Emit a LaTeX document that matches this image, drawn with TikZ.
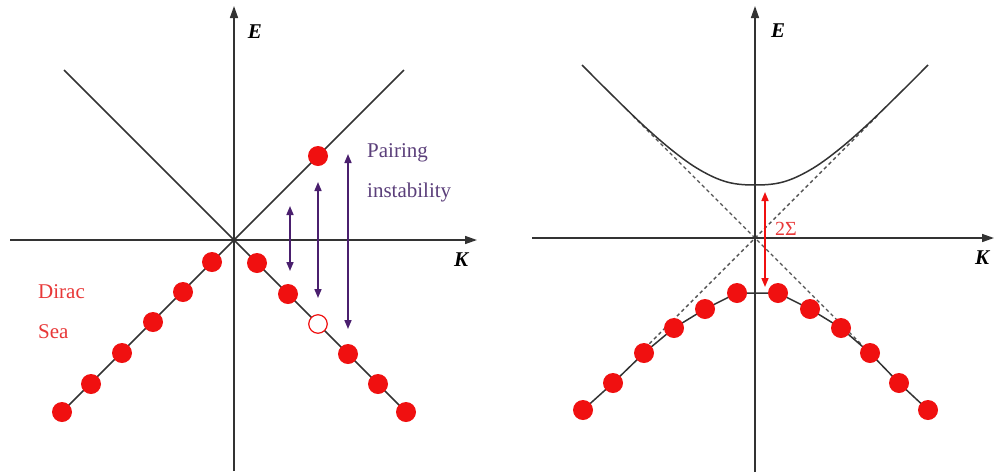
\documentclass[tikz,border=0pt]{standalone}
\usepackage{fontspec}
\setmainfont{Liberation Serif}
\usetikzlibrary{arrows.meta}
\definecolor{dotred}{HTML}{F01010}
\definecolor{seared}{HTML}{E83838}
\definecolor{pairtxt}{HTML}{5B3F7A}
\definecolor{pairarr}{HTML}{4A1F6E}
\definecolor{linegrey}{HTML}{333333}
\tikzset{
  axis/.style={line width=1.5pt, draw=linegrey, -{Triangle[length=12pt,width=8pt]}},
  band/.style={line width=1.5pt, draw=linegrey},
  asym/.style={line width=1.4pt, draw=linegrey!85, dash pattern=on 3.5pt off 3pt},
  dot/.style={circle, fill=dotred, inner sep=0pt, minimum size=20pt},
  hole/.style={circle, fill=white, draw=dotred, line width=1.2pt, inner sep=0pt, minimum size=18.5pt},
  pairarrow/.style={line width=1.6pt, draw=pairarr, {Triangle[length=9pt,width=7pt]}-{Triangle[length=9pt,width=7pt]}},
  gaparrow/.style={line width=1.6pt, draw=dotred, {Triangle[length=9pt,width=7pt]}-{Triangle[length=9pt,width=7pt]}},
  axlabel/.style={font=\fontsize{21}{25}\selectfont\bfseries\itshape, inner sep=0pt},
  txt/.style={font=\fontsize{21}{25}\selectfont, inner sep=0pt, anchor=base west}
}
\begin{document}
\begin{tikzpicture}[x=1pt,y=-1pt]
\useasboundingbox (0,0) rectangle (994,475);
% ---------------- left panel ----------------
\coordinate (O1) at (234,240);
\coordinate (L1b) at (234,471);
\coordinate (L1t) at (234,6);
\coordinate (L1l) at (10,240);
\coordinate (L1r) at (477,240);
\coordinate (UL) at (64,70);
\coordinate (UR) at (404,70);
\coordinate (DL) at (56,418);
\coordinate (DR) at (412,418);
\draw[axis] (L1b) -- (L1t);
\draw[axis] (L1l) -- (L1r);
\draw[band] (UL) -- (O1) -- (DR);
\draw[band] (UR) -- (O1) -- (DL);
\node[axlabel] (E1) at (255,32) {E};
\node[axlabel] (K1) at (461,260) {K};
% Dirac sea dots
\node[dot] (a1) at (212,262) {};
\node[dot] (a2) at (183,292) {};
\node[dot] (a3) at (153,322) {};
\node[dot] (a4) at (122,353) {};
\node[dot] (a5) at (91,384) {};
\node[dot] (a6) at (62,412) {};
\node[dot] (b1) at (257,263) {};
\node[dot] (b2) at (288,294) {};
\node[hole] (b3) at (318,324) {};
\node[dot] (b4) at (348,354) {};
\node[dot] (b5) at (378,384) {};
\node[dot] (b6) at (406,412) {};
\node[dot] (u1) at (318,156) {};
% pairing arrows
\coordinate (p1t) at (290,206);
\coordinate (p1b) at (290,271);
\coordinate (p2t) at (318,182);
\coordinate (p2b) at (318,298);
\coordinate (p3t) at (348,154);
\coordinate (p3b) at (348,329);
\draw[pairarrow] (p1t) -- (p1b);
\draw[pairarrow] (p2t) -- (p2b);
\draw[pairarrow] (p3t) -- (p3b);
\node[txt, text=pairtxt] (pair) at (367,157) {Pairing};
\node[txt, text=pairtxt] (inst) at (367,197) {instability};
\node[txt, text=seared] (dirac) at (38,298) {Dirac};
\node[txt, text=seared] (sea) at (38,338) {Sea};
% ---------------- right panel ----------------
\coordinate (O2) at (755,238);
\coordinate (R2b) at (755,472);
\coordinate (R2t) at (755,6);
\coordinate (R2l) at (532,238);
\coordinate (R2r) at (994,238);
\coordinate (A1) at (633,116);
\coordinate (A2) at (862,345);
\coordinate (A3) at (877,116);
\coordinate (A4) at (648,345);
\draw[asym] (A1) -- (O2) -- (A2);
\draw[asym] (A3) -- (O2) -- (A4);
\draw[axis] (R2b) -- (R2t);
\draw[axis] (R2l) -- (R2r);
\draw[band] plot[smooth, tension=0.6] coordinates {(582,65) (610,93) (643,125) (673,151) (700,170) (727,182) (755,185) (783,182) (810,170) (837,151) (867,125) (900,93) (928,65)};
\node[axlabel] (E2) at (778,31) {E};
\node[axlabel] (K2) at (982,258) {K};
\coordinate (c1) at (583,410);
\coordinate (c2) at (613,383);
\coordinate (c3) at (644,353);
\coordinate (c4) at (674,328);
\coordinate (c5) at (705,309);
\coordinate (c6) at (737,293);
\coordinate (d6) at (778,293);
\coordinate (d5) at (810,309);
\coordinate (d4) at (841,328);
\coordinate (d3) at (870,353);
\coordinate (d2) at (899,383);
\coordinate (d1) at (928,410);
\draw[band] (c1) -- (c2) -- (c3) -- (c4) -- (c5) -- (c6) -- (d6) -- (d5) -- (d4) -- (d3) -- (d2) -- (d1);
\foreach \n in {c1,c2,c3,c4,c5,c6,d6,d5,d4,d3,d2,d1} \node[dot] (dot\n) at (\n) {};
\coordinate (g1) at (765,192);
\coordinate (g2) at (765,287);
\draw[gaparrow] (g1) -- (g2);
\node[font=\fontsize{20}{24}\selectfont, text=seared, inner sep=0pt] (sig) at (786,229) {2Σ};
\end{tikzpicture}
\end{document}
